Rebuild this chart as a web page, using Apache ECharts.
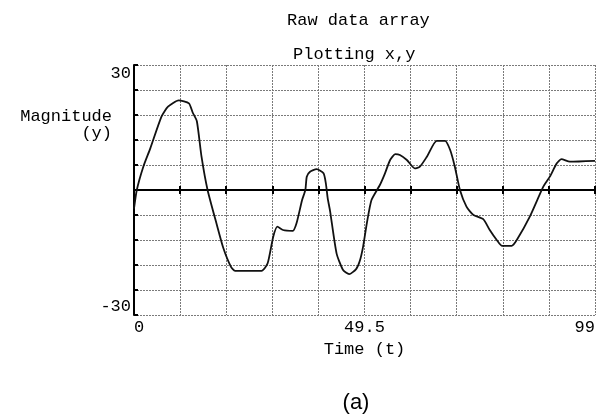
<!DOCTYPE html>
<html>
<head>
<meta charset="utf-8">
<script src="https://cdn.jsdelivr.net/npm/echarts@6/dist/echarts.min.js"></script>
<style>
  html, body { margin: 0; padding: 0; background: #fff; }
  #chart { width: 604px; height: 414px; }
</style>
</head>
<body>
<div id="chart"></div>
<script>
// raw samples: time (t) and magnitude (y)
var timeValues = [0, 0.6, 2, 3.5, 5.9, 7.3, 9.6, 11.8, 12.6, 13.5, 14.5, 15.8, 17.8, 19.2, 20.8, 21.7,
  27.4, 28.7, 29.9, 30.8, 32, 34.1, 34.9, 36.1, 36.8, 37.1, 37.8, 39.2, 40.7, 41.2, 41.6, 42.1,
  43.5, 44.9, 46.2, 47.7, 48.5, 49.2, 50, 51, 52.8, 53.9, 55, 56.1, 57.1, 58.6, 60.3, 61.4,
  62.9, 65, 66.8, 67.9, 68.9, 70, 71.4, 72.9, 75, 76.4, 77.9, 79, 81.1, 82.2, 85, 87.9,
  89.3, 90.8, 91.8, 93.6, 99];
var magnitudes = [-4.5, 0, 5.6, 10, 17.6, 20, 21.5, 20.8, 18.6, 16.5, 8, 0, -8.4, -14, -18.4, -19.4,
  -19.4, -17.6, -11.2, -8.8, -9.6, -9.8, -8, -2.4, 0, 3.2, 4.4, 5, 4, 1.6, -2, -5,
  -15.2, -19.2, -20.2, -19, -17, -13.6, -8, -2.4, 1.2, 4, 7.2, 8.6, 8.4, 7.2, 5.2, 5.6,
  8, 11.8, 11.8, 9.6, 5.6, 0, -4, -6, -7, -9.6, -12, -13.4, -13.4, -12, -6.4, 0.8,
  3.2, 6.4, 7.4, 6.8, 7];
var xTickLabels = ['0', '49.5', '99'];
var yTickLabels = ['30', '-30'];

var mono = 'Liberation Mono';
var gridLine = { color: '#7a7a7a', type: [2, 1], width: 1 };
var points = [];
for (var i = 0; i < timeValues.length; i++) {
  points.push([timeValues[i], magnitudes[i]]);
}

function pickLabel(list, v) {
  for (var k = 0; k < list.length; k++) {
    if (Math.abs(parseFloat(list[k]) - v) < 1e-6) return list[k];
  }
  return '';
}

// extra x axes only draw the zero line with its small ticks
function zeroAxis(inside) {
  return {
    type: 'value', min: 0, max: 99, interval: 9.9,
    axisLine: { show: true, onZero: true, onZeroAxisIndex: 0, lineStyle: { color: '#000', width: 2 } },
    axisTick: { show: true, inside: inside, length: 4, lineStyle: { color: '#000', width: 2 } },
    axisLabel: { show: false },
    splitLine: { show: false }
  };
}

var chart = echarts.init(document.getElementById('chart'));
chart.setOption({
  animation: false,
  title: [
    { text: 'Raw data array', left: 282, top: 7, textStyle: { fontFamily: mono, fontSize: 17, fontWeight: 'normal', color: '#000' } },
    { text: 'Plotting x,y', left: 288, top: 41, textStyle: { fontFamily: mono, fontSize: 17, fontWeight: 'normal', color: '#000' } },
    { text: '(a)', left: 351, top: 398, textAlign: 'center', textVerticalAlign: 'middle',
      textStyle: { fontFamily: 'Liberation Sans Narrow, Liberation Sans', fontSize: 22, fontWeight: 'normal', color: '#000' } }
  ],
  grid: { left: 134, right: 9, top: 65, bottom: 99 },
  xAxis: [
    {
      type: 'value', min: 0, max: 99, interval: 9.9,
      name: 'Time (t)', nameLocation: 'middle', nameGap: 17,
      nameTextStyle: { fontFamily: mono, fontSize: 17, color: '#000' },
      axisLine: { show: false, onZero: false },
      axisTick: { show: false },
      axisLabel: {
        fontFamily: mono, fontSize: 17, color: '#000', margin: 4,
        alignMinLabel: 'left', alignMaxLabel: 'right',
        formatter: function (v) { return pickLabel(xTickLabels, v); }
      },
      splitLine: { show: true, lineStyle: gridLine }
    },
    zeroAxis(false),
    zeroAxis(true)
  ],
  yAxis: {
    type: 'value', min: -30, max: 30, interval: 6,
    name: 'Magnitude\n(y)', nameLocation: 'end', nameRotate: 0, nameGap: -60,
    nameTextStyle: { fontFamily: mono, fontSize: 17, color: '#000', align: 'right', verticalAlign: 'middle',
      lineHeight: 17, padding: [0, 22, 0, 0] },
    axisLine: { show: true, onZero: false, lineStyle: { color: '#000', width: 2 } },
    axisTick: { show: true, inside: true, length: 4, lineStyle: { color: '#000', width: 2 } },
    axisLabel: {
      fontFamily: mono, fontSize: 17, color: '#000', margin: 3,
      verticalAlignMaxLabel: 'top', verticalAlignMinLabel: 'bottom',
      formatter: function (v) { return pickLabel(yTickLabels, v); }
    },
    splitLine: { show: true, lineStyle: gridLine }
  },
  series: [{
    type: 'line',
    xAxisIndex: 0,
    data: points,
    showSymbol: false,
    smooth: 0.2,
    lineStyle: { color: '#111', width: 1.8 }
  }]
});
</script>
</body>
</html>
